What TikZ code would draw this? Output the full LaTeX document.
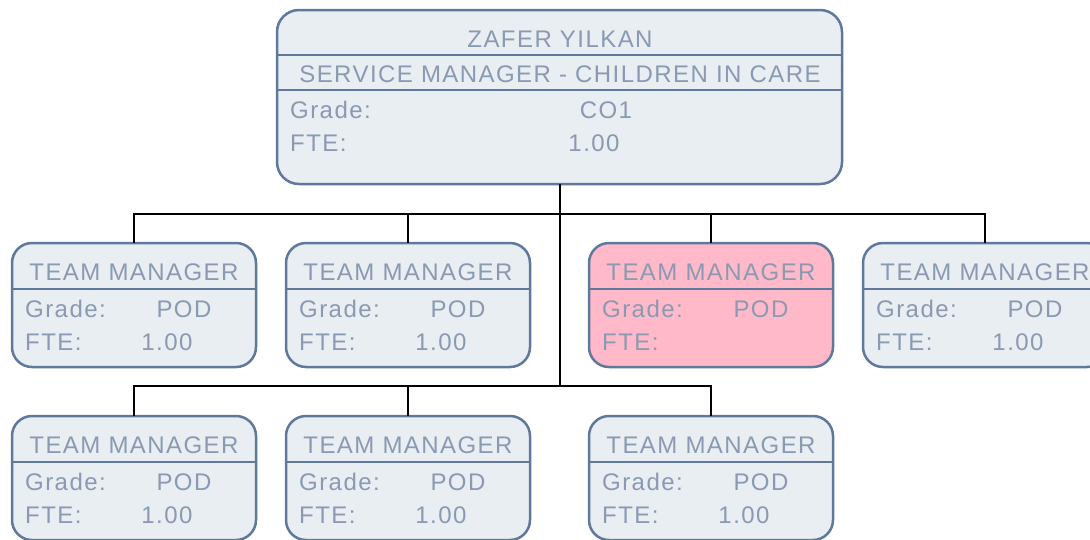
\documentclass[tikz,border=0pt]{standalone}
\usepackage{fontspec}
\setmainfont{Liberation Sans}
\newfontfamily\lab[LetterSpace=6]{Liberation Sans}
\definecolor{boxfill}{HTML}{E8EEF1}
\definecolor{pinkfill}{HTML}{FFB9C9}
\definecolor{bordc}{HTML}{5F789C}
\definecolor{txtc}{HTML}{8A9AB2}
\newcommand\tmbox[6]{% name, left x, top y, fill, grade, fte
  \node[box, fill=#4] (#1) at (#2,#3) {};
  \draw[divl] (#1.west |- 0,#3-46) -- (#1.east |- 0,#3-46);
  \node[txt] (#1t) at (#2+122,#3-29) {TEAM MANAGER};
  \node[txt, anchor=west] (#1gl) at (#2+13,#3-66) {Grade:};
  \node[txt] (#1gv) at (#2+172,#3-66) {#5};
  \node[txt, anchor=west] (#1fl) at (#2+13,#3-99) {FTE:};
  \node[txt] (#1fv) at (#2+155,#3-99) {#6};
}
\begin{document}
\begin{tikzpicture}[x=1pt,y=1pt,
  box/.style={draw=bordc, line width=2.5pt, rounded corners=20pt, anchor=north west,
    minimum width=244pt, minimum height=124pt, inner sep=0pt, outer sep=0pt},
  divl/.style={draw=bordc, line width=2.5pt},
  txt/.style={font=\lab\fontsize{24}{24}\selectfont, text=txtc, inner sep=0pt,
    text height=17pt, text depth=0pt},
  conn/.style={draw=black, line width=2pt}]
\clip (0,0) rectangle (1090,-539);
% top box
\node[box, fill=boxfill, minimum width=565pt, minimum height=174pt, rounded corners=22pt] (top) at (277,-10) {};
\draw[divl] (top.west |- 0,-55) -- (top.east |- 0,-55);
\draw[divl] (top.west |- 0,-90) -- (top.east |- 0,-90);
\node[txt] (name) at (560,-39) {ZAFER YILKAN};
\node[txt] (title) at (560,-74) {SERVICE MANAGER - CHILDREN IN CARE};
\node[txt, anchor=west] (tgl) at (290,-110) {Grade:};
\node[txt] (tgv) at (606,-110) {CO1};
\node[txt, anchor=west] (tfl) at (290,-143) {FTE:};
\node[txt] (tfv) at (594,-143) {1.00};
% junctions
\coordinate (j1) at (top.south |- 0,-214);
\coordinate (j2) at (top.south |- 0,-386);
% team boxes
\tmbox{a}{12}{-243}{boxfill}{POD}{1.00}
\tmbox{b}{286}{-243}{boxfill}{POD}{1.00}
\tmbox{c}{589}{-243}{pinkfill}{POD}{}
\tmbox{d}{863}{-243}{boxfill}{POD}{1.00}
\tmbox{e}{12}{-416}{boxfill}{POD}{1.00}
\tmbox{f}{286}{-416}{boxfill}{POD}{1.00}
\tmbox{g}{589}{-416}{boxfill}{POD}{1.00}
% lines
\draw[conn] (top.south) -- (j1);
\draw[conn] (j1) -- (j2);
\draw[conn] (j1) -| (a.north);
\draw[conn] (j1) -| (b.north);
\draw[conn] (j1) -| (c.north);
\draw[conn] (j1) -| (d.north);
\draw[conn] (j2) -| (e.north);
\draw[conn] (j2) -| (f.north);
\draw[conn] (j2) -| (g.north);
\end{tikzpicture}
\end{document}
